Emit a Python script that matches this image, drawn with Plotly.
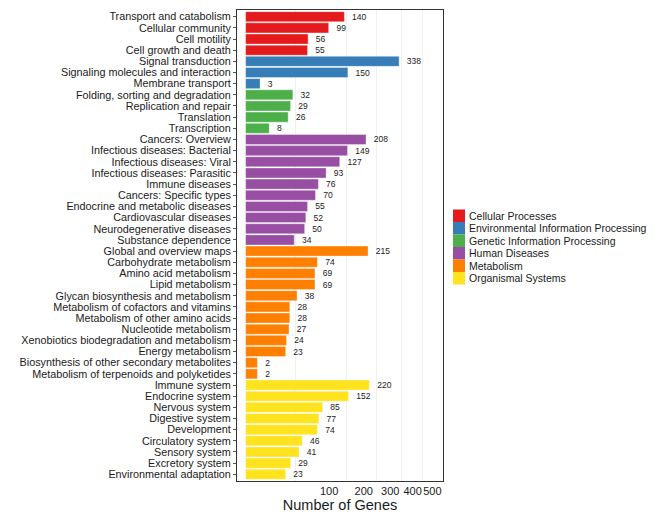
import numpy as np
import plotly.graph_objects as go

groups = ["Cellular Processes", "Environmental Information Processing",
          "Genetic Information Processing", "Human Diseases", "Metabolism",
          "Organismal Systems"]
colors = ["#E41A1C", "#377EB8", "#4DAF4A", "#984EA3", "#FF7F00", "#FFE31F"]

cellular = ["Transport and catabolism", "Cellular community", "Cell motility", "Cell growth and death"]
cellular_v = [140, 99, 56, 55]
environ = ["Signal transduction", "Signaling molecules and interaction", "Membrane transport"]
environ_v = [338, 150, 3]
genetic = ["Folding, sorting and degradation", "Replication and repair", "Translation", "Transcription"]
genetic_v = [32, 29, 26, 8]
human = ["Cancers: Overview", "Infectious diseases: Bacterial", "Infectious diseases: Viral",
         "Infectious diseases: Parasitic", "Immune diseases", "Cancers: Specific types",
         "Endocrine and metabolic diseases", "Cardiovascular diseases",
         "Neurodegenerative diseases", "Substance dependence"]
human_v = [208, 149, 127, 93, 76, 70, 55, 52, 50, 34]
metab = ["Global and overview maps", "Carbohydrate metabolism", "Amino acid metabolism",
         "Lipid metabolism", "Glycan biosynthesis and metabolism",
         "Metabolism of cofactors and vitamins", "Metabolism of other amino acids",
         "Nucleotide metabolism", "Xenobiotics biodegradation and metabolism",
         "Energy metabolism", "Biosynthesis of other secondary metabolites",
         "Metabolism of terpenoids and polyketides"]
metab_v = [215, 74, 69, 69, 38, 28, 28, 27, 24, 23, 2, 2]
organ = ["Immune system", "Endocrine system", "Nervous system", "Digestive system",
         "Development", "Circulatory system", "Sensory system", "Excretory system",
         "Environmental adaptation"]
organ_v = [220, 152, 85, 77, 74, 46, 41, 29, 23]

x_ticks = [100, 200, 300, 400, 500]

cats = [cellular, environ, genetic, human, metab, organ]
vals = [cellular_v, environ_v, genetic_v, human_v, metab_v, organ_v]
order = [c for grp in cats for c in grp]

W, H = 669, 514
ML, MR, MT, MB = 237, 226, 10, 33
PW, PH = W - ML - MR, H - MT - MB

fig = go.Figure()
for g, col, c, v in zip(groups, colors, cats, vals):
    fig.add_trace(go.Bar(
        name=g, y=c, x=np.sqrt(v), orientation="h",
        marker=dict(color=col, line=dict(color="rgba(255,255,255,0.6)", width=0.6)),
        width=0.9,
        text=["  " + str(t) for t in v], textposition="outside",
        textfont=dict(size=8.5, color="#1a1a1a"), constraintext="none",
        cliponaxis=False, hoverinfo="skip", showlegend=False))

sq = np.sqrt(x_ticks)
minor_vals = [6.0] + [float((a + b) / 2) for a, b in zip(sq[:-1], sq[1:])]

# manual legend (compact, like the reference)
shapes, annots = [], []
sw_x0, sw_w, item_h, first_top = 453, 12, 12.5, 209.5
for i, (g, col) in enumerate(zip(groups, colors)):
    top = first_top + i * item_h
    y0 = (H - MB - top) / PH
    y1 = (H - MB - (top + item_h)) / PH
    shapes.append(dict(type="rect", xref="paper", yref="paper",
                       x0=(sw_x0 - ML) / PW, x1=(sw_x0 + sw_w - ML) / PW,
                       y0=y1, y1=y0, fillcolor=col, line=dict(width=0)))
    annots.append(dict(xref="paper", yref="paper", x=(sw_x0 + sw_w + 2 - ML) / PW,
                       y=(y0 + y1) / 2, xanchor="left", yanchor="middle",
                       text=g, showarrow=False, font=dict(size=10.5, color="#1a1a1a")))

fig.update_layout(
    width=W, height=H,
    margin=dict(l=ML, r=MR, t=MT, b=MB, autoexpand=False),
    paper_bgcolor="white", plot_bgcolor="white",
    font=dict(family="Liberation Sans, Arial, sans-serif", color="#1a1a1a"),
    barmode="overlay",
    showlegend=False,
    shapes=shapes, annotations=annots,
    xaxis=dict(range=[-1.03, 23.64], tickmode="array", tickvals=sq,
               ticktext=[str(t) for t in x_ticks], showgrid=False, tickangle=0,
               tickfont=dict(size=11, color="#1a1a1a"), ticks="", ticklen=0,
               showline=True, mirror=True, linecolor="#333333", linewidth=1,
               zeroline=False, automargin=False,
               minor=dict(tickmode="array", tickvals=minor_vals, showgrid=True,
                          gridcolor="#f0f0f0", gridwidth=1, ticks=""),
               title=dict(text="Number of Genes", font=dict(size=14.5, color="#1a1a1a"),
                          standoff=0)),
    yaxis=dict(type="category", categoryorder="array", categoryarray=order,
               tickmode="array", tickvals=order, ticktext=order,
               range=[len(order) - 0.4, -0.6], showgrid=False, automargin=False,
               tickfont=dict(size=10.8, color="#1a1a1a"), ticks="outside", ticklen=3,
               tickcolor="#555555", showline=True, mirror=True, linecolor="#333333",
               linewidth=1, zeroline=False),
)

fig.write_html("out.html")
